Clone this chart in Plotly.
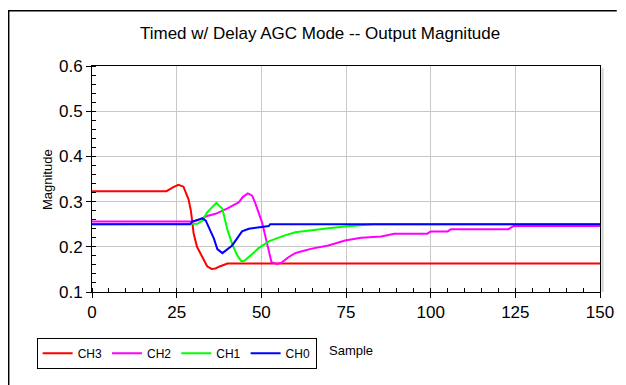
import plotly.graph_objects as go

# values (sample index vs magnitude)
ch3_x = [0, 22, 24, 25.5, 27, 28.5, 29.2, 30, 31, 32, 33, 34, 35.3, 36.5, 37.5, 38.5, 40, 150]
ch3_y = [0.323, 0.323, 0.332, 0.337, 0.333, 0.305, 0.28, 0.23, 0.2, 0.185, 0.17, 0.157, 0.151, 0.152, 0.156, 0.159, 0.163, 0.163]

ch2_x = [0, 30, 31, 34, 36.5, 37.5, 40, 43.3, 44.5, 46, 47.3, 48.3, 50.2, 51.7, 53, 54.6, 56, 58, 60, 62,
         64.9, 69.8, 74.7, 79.5, 85.4, 89.3, 99, 100, 105, 106, 123, 124.5, 150]
ch2_y = [0.256, 0.256, 0.258, 0.268, 0.273, 0.276, 0.285, 0.298, 0.31, 0.318, 0.313, 0.295, 0.254, 0.207,
         0.166, 0.162, 0.165, 0.177, 0.186, 0.19, 0.196, 0.203, 0.214, 0.22, 0.223, 0.229, 0.229, 0.234,
         0.234, 0.239, 0.239, 0.246, 0.246]

ch1_x = [0, 28.7, 31.1, 32.6, 34, 35, 36.7, 38.5, 39.9, 41.4, 42.9, 44.1, 45, 47.3, 49.2, 52.2, 56.1,
         60, 64.9, 69.8, 74.7, 83, 150]
ch1_y = [0.25, 0.251, 0.251, 0.258, 0.276, 0.284, 0.297, 0.284, 0.24, 0.206, 0.181, 0.168, 0.169, 0.184,
         0.197, 0.212, 0.223, 0.232, 0.237, 0.241, 0.245, 0.25, 0.25]

ch0_x = [0, 29, 29.6, 31, 32.6, 33.6, 35, 36, 37, 38.5, 41.4, 44.3, 46.3, 50.2, 52.2, 52.6, 150]
ch0_y = [0.25, 0.25, 0.256, 0.259, 0.263, 0.258, 0.236, 0.218, 0.195, 0.186, 0.203, 0.234, 0.24, 0.243,
         0.246, 0.25, 0.25]

series = [
    ("CH3", ch3_x, ch3_y, "#ff0000"),
    ("CH2", ch2_x, ch2_y, "#ff00ff"),
    ("CH1", ch1_x, ch1_y, "#00ff00"),
    ("CH0", ch0_x, ch0_y, "#0000ff"),
]

FONT = "Liberation Sans, Arial, sans-serif"

fig = go.Figure()
for name, xs, ys, color in series:
    fig.add_trace(go.Scatter(x=xs, y=ys, mode="lines", name=name,
                             line=dict(color=color, width=2)))

axis_common = dict(
    showgrid=True, gridcolor="#c8c8c8", gridwidth=1,
    showline=True, linecolor="black", linewidth=1, mirror=True,
    ticks="outside", ticklen=5, tickcolor="black",
    tickfont=dict(family=FONT, size=17, color="black"),
    zeroline=False,
)

# page body has an 8px margin, so the figure is sized to fill the rest of the window
fig.update_layout(
    width=618, height=377,
    margin=dict(l=84, r=22, t=58, b=93),
    paper_bgcolor="white", plot_bgcolor="white",
    font=dict(family=FONT, color="black"),
    title=dict(text="Timed w/ Delay AGC Mode -- Output Magnitude",
               x=0.505, xref="container", xanchor="center",
               y=0.934, yref="container", yanchor="middle",
               font=dict(family=FONT, size=17, color="black")),
    xaxis=dict(range=[0, 150], dtick=25, tick0=0,
               minor=dict(dtick=5, ticks="inside", ticklen=4, tickcolor="black", showgrid=False),
               **axis_common),
    yaxis=dict(range=[0.1, 0.6], dtick=0.1, tick0=0.1, tickformat=".1f",
               minor=dict(dtick=0.02, ticks="inside", ticklen=4, tickcolor="black", showgrid=False),
               **axis_common),
    showlegend=True,
    legend=dict(orientation="h", x=-0.109, y=-0.202, xanchor="left", yanchor="top",
                bordercolor="black", borderwidth=1, bgcolor="white",
                font=dict(family=FONT, size=12, color="black")),
)

# axis titles placed like the original (y title rotated, x title beside the legend)
fig.add_annotation(text="Magnitude", xref="paper", yref="paper", x=-0.105, y=0.496,
                   textangle=-90, showarrow=False, font=dict(family=FONT, size=13))
fig.add_annotation(text="Sample", xref="paper", yref="paper", x=0.463, y=-0.261,
                   xanchor="left", yanchor="middle", showarrow=False, font=dict(family=FONT, size=13))

# outer chart frame (left and top edges visible in the crop)
fig.add_shape(type="path", xref="paper", yref="paper",
              path="M -0.164 -0.5 L -0.164 1.245 L 1.033 1.245",
              line=dict(color="black", width=1.5))
# light shadow on the right of the plot area
fig.add_shape(type="line", xref="paper", yref="paper", x0=1.005, x1=1.005, y0=0, y1=0.99,
              line=dict(color="#d0d0d0", width=2))

fig.write_html("out.html")
